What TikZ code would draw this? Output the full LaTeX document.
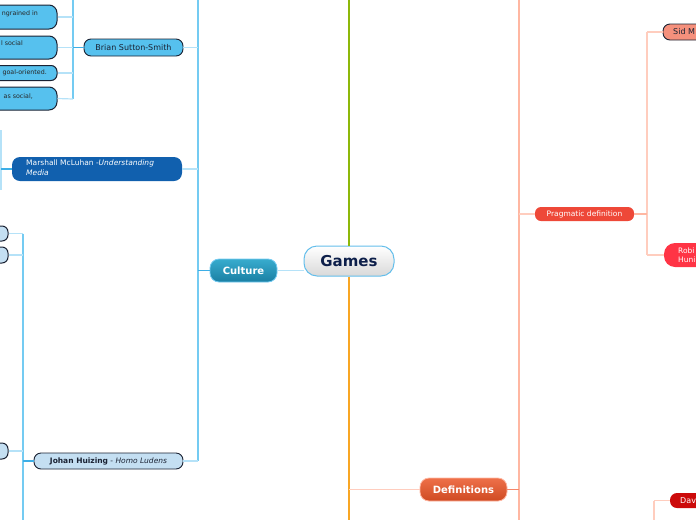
\documentclass[tikz,border=0pt]{standalone}
\usepackage{fontspec}
\setmainfont{DejaVu Sans}
\begin{document}
\begin{tikzpicture}[x=1pt,y=-1pt,
  pill/.style={rounded corners=#1, minimum height=10pt, inner sep=0pt},
  fs/.style={font=\fontsize{#1}{#1}\selectfont},
  cblue/.style={draw=cbtrunk, line width=1.3pt},
  cbl/.style={draw=cblight, line width=1.2pt},
  cbd/.style={draw=cbdark, line width=1.6pt},
  sal/.style={draw=saltrunk, line width=1.3pt},
  sall/.style={draw=sallight, line width=1.2pt},
  txt/.style={inner sep=0pt, font=\fontsize{6.3}{7}\selectfont, text=black!85}
]
\definecolor{cbtrunk}{HTML}{74CBF2}
\definecolor{cblight}{HTML}{B5E2F8}
\definecolor{cbdark}{HTML}{3DAEE6}
\definecolor{saltrunk}{HTML}{FFB7A2}
\definecolor{sallight}{HTML}{FFCDBE}
\definecolor{saldark}{HTML}{F5876A}
\definecolor{skyfill}{HTML}{56C1EE}
\definecolor{palefill}{HTML}{C4DFF2}
\definecolor{navytext}{HTML}{0D1F4A}
\definecolor{nodeline}{HTML}{1A2233}
\definecolor{culttop}{HTML}{38ACCE}
\definecolor{cultbot}{HTML}{1A7FA3}
\definecolor{deftop}{HTML}{EE7049}
\definecolor{defbot}{HTML}{CF4A22}
\definecolor{mclfill}{HTML}{1160AE}
\definecolor{pragfill}{HTML}{EE4838}
\definecolor{sidfill}{HTML}{F5907C}
\definecolor{robifill}{HTML}{FF3445}
\definecolor{davfill}{HTML}{CC0A0A}
\definecolor{greenline}{HTML}{8DB80A}
\definecolor{orangeline}{HTML}{F8A624}
\useasboundingbox (0,0) rectangle (696,520);
\clip (0,0) rectangle (696,520);

% ---------- nodes ----------
\node[pill=13pt, minimum width=90pt, minimum height=30pt, top color=white, bottom color=black!15,
      draw=cbdark!80, line width=1pt, text=navytext, font=\fontsize{15}{15}\selectfont\bfseries]
      (games) at (349,261) {Games};
\node[pill=9pt, minimum width=67pt, minimum height=23pt, top color=culttop, bottom color=cultbot,
      draw=cbtrunk, line width=0.8pt, text=white, font=\fontsize{10}{10}\selectfont\bfseries]
      (culture) at (243.5,270.5) {Culture};
\node[pill=9pt, minimum width=87pt, minimum height=23pt, top color=deftop, bottom color=defbot,
      draw=saltrunk, line width=0.8pt, text=white, font=\fontsize{10}{10}\selectfont\bfseries]
      (definitions) at (463.5,489.5) {Definitions};

% Culture side
\node[pill=7pt, minimum width=99pt, minimum height=17pt, fill=skyfill, draw=nodeline, line width=0.9pt,
      fs=8, text=nodeline] (brian) at (133.5,47.5) {Brian Sutton-Smith};
\node[pill=8pt, minimum width=170pt, minimum height=24pt, fill=mclfill] (marshall) at (97,169) {};
\node[anchor=west, align=left, inner sep=0pt, text=white, font=\fontsize{7.5}{10}\selectfont]
      (marshallt) at (26,168) {Marshall McLuhan -\textit{Understanding}\\\textit{Media}};
\node[pill=7pt, minimum width=149pt, minimum height=16pt, fill=palefill, draw=nodeline, line width=0.9pt,
      fs=7.5, text=nodeline] (johan) at (108.5,461) {\textbf{Johan Huizing} - \textit{Homo Ludens}};

% Brian children
\node[pill=8pt, minimum width=110pt, minimum height=11pt, fill=white, draw=black!30, line width=0.8pt] (top) at (-57,-5) {};
\node[pill=8pt, minimum width=97pt, minimum height=24pt, fill=skyfill, draw=nodeline, line width=1pt] (b1) at (8.5,17) {};
\node[pill=8pt, minimum width=97pt, minimum height=23pt, fill=skyfill, draw=nodeline, line width=1pt] (b2) at (8.5,47.5) {};
\node[pill=6pt, minimum width=97pt, minimum height=15pt, fill=skyfill, draw=nodeline, line width=1pt] (b3) at (8.5,73) {};
\node[pill=8pt, minimum width=97pt, minimum height=23pt, fill=skyfill, draw=nodeline, line width=1pt] (b4) at (8.5,98.5) {};
\node[txt, anchor=east] (b1t) at (38,14) {ngrained in};
\node[txt, anchor=east] (b2t) at (23,43) {l social};
\node[txt, anchor=east] (b3t) at (47,73) {goal-oriented.};
\node[txt, anchor=east] (b4t) at (33,96) {as social,};

% Johan children (cut off at the left edge)
\node[pill=6pt, minimum width=28pt, minimum height=15pt, fill=palefill, draw=nodeline, line width=1pt] (c1) at (-6,233.5) {};
\node[pill=6pt, minimum width=28pt, minimum height=16pt, fill=palefill, draw=nodeline, line width=1pt] (c2) at (-6,255) {};
\node[pill=6pt, minimum width=28pt, minimum height=16pt, fill=palefill, draw=nodeline, line width=1pt] (c3) at (-6,451) {};

% Definitions side
\node[pill=6pt, minimum width=99pt, minimum height=14pt, fill=pragfill, text=white, fs=7.5]
      (pragmatic) at (584.5,214) {Pragmatic definition};
\node[pill=7pt, minimum width=80pt, minimum height=16pt, fill=sidfill, draw=nodeline, line width=0.9pt] (sid) at (703,32) {};
\node[anchor=west, inner sep=0pt, fs=8, text=nodeline] (sidt) at (673,32) {Sid M};
\node[pill=11pt, minimum width=80pt, minimum height=24pt, fill=robifill] (robi) at (704,255) {};
\node[anchor=west, align=left, inner sep=0pt, text=white, font=\fontsize{7.5}{9}\selectfont] (robit) at (678,255) {Robi\\Huni};
\node[pill=7pt, minimum width=80pt, minimum height=15pt, fill=davfill] (dav) at (710,500.5) {};
\node[anchor=west, inner sep=0pt, text=white, fs=8] (davt) at (680,500.5) {Dav};

% ---------- coordinates ----------
\coordinate (gtop) at (349,0);
\coordinate (gbot) at (349,520);
\coordinate (ctrTop) at (198,0);
\coordinate (ctrBot) at (198,461);
\coordinate (btrTop) at (73,0);
\coordinate (btrBot) at (73,99);
\coordinate (mtrTop) at (1,130);
\coordinate (mtrBot) at (1,190);
\coordinate (jtrTop) at (23,233.5);
\coordinate (jtrBot) at (23,520);
\coordinate (dtrTop) at (519,0);
\coordinate (dtrBot) at (519,520);
\coordinate (ptrTop) at (647,32);
\coordinate (ptrBot) at (647,255);
\coordinate (vtrTop) at (654,500.5);
\coordinate (vtrBot) at (654,520);

% ---------- connectors ----------
\draw[draw=greenline, line width=2.6pt] (games.north) -- (gtop);
\draw[draw=orangeline, line width=2pt] (games.south) -- (gbot);
\draw[cbl] (culture.east) -- (culture.east -| games.west);

\draw[cblue] (ctrTop) -- (ctrBot);
\draw[cbd] (culture.west) -- (culture.west -| ctrTop);
\draw[cbl] (brian.east) -- (brian.east -| ctrTop);
\draw[cbl] (marshall.east) -- (marshall.east -| ctrTop);
\draw[cbl] (johan.east) -- (ctrBot);

\draw[cblue] (btrTop) -- (btrBot);
\draw[cbd] (brian.west) -- (brian.west -| btrTop);
\draw[cbl] (b1.east) -- (b1.east -| btrTop);
\draw[cbl] (b2.east) -- (b2.east -| btrTop);
\draw[cbl] (b3.east) -- (b3.east -| btrTop);
\draw[cbl] (b4.east) -- (btrBot);

\draw[cbl] (mtrTop) -- (mtrBot);
\draw[cbd] (marshall.west) -- (marshall.west -| mtrTop);

\draw[cblue] (jtrTop) -- (jtrBot);
\draw[cbd] (johan.west) -- (johan.west -| jtrTop);
\draw[cbl] (c1.east) -- (jtrTop);
\draw[cbl] (c2.east) -- (c2.east -| jtrTop);
\draw[cbl] (c3.east) -- (c3.east -| jtrTop);

\draw[sall] (definitions.west) -- (definitions.west -| gbot);
\draw[sal] (dtrTop) -- (dtrBot);
\draw[draw=saldark, line width=1.5pt] (definitions.east) -- (definitions.east -| dtrTop);
\draw[sall] (pragmatic.west) -- (pragmatic.west -| dtrTop);

\draw[sall] (ptrTop) -- (ptrBot);
\draw[draw=saltrunk, line width=1.5pt] (pragmatic.east) -- (pragmatic.east -| ptrTop);
\draw[sall] (sid.west) -- (ptrTop);
\draw[sall] (robi.west) -- (ptrBot);

\draw[sall] (dav.west) -- (vtrTop);
\draw[sall] (vtrTop) -- (vtrBot);
\end{tikzpicture}
\end{document}
